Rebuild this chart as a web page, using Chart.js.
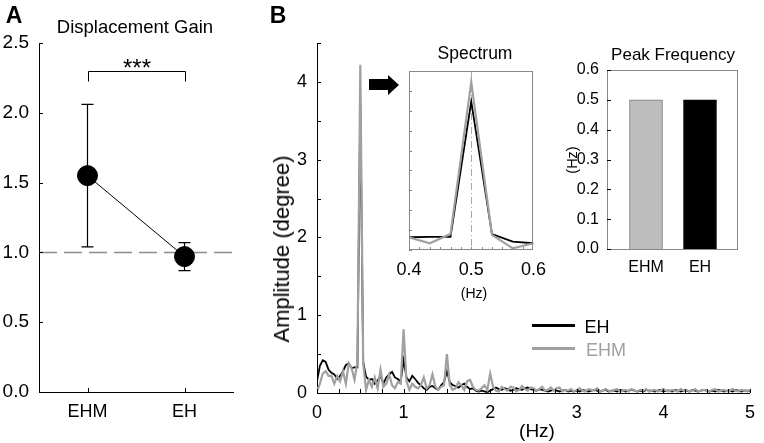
<!DOCTYPE html>
<html><head><meta charset="utf-8">
<script src="https://cdn.jsdelivr.net/npm/chart.js@4.4.0/dist/chart.umd.min.js"></script>
<style>
html,body{margin:0;padding:0;background:#fff;}
body{width:764px;height:443px;position:relative;overflow:hidden;font-family:"Liberation Sans",Arial,sans-serif;color:#000;}
canvas{position:absolute;}
.t{position:absolute;white-space:nowrap;line-height:1;transform:translate(-50%,-50%);}
.r{transform:translate(-50%,-50%) rotate(-90deg);}
.lg{position:absolute;height:2.5px;}
</style></head><body>
<canvas id="cA" width="250" height="443" style="left:0;top:0"></canvas>
<canvas id="cB" width="504" height="443" style="left:260px;top:0"></canvas>
<canvas id="cI" width="175" height="260" style="left:380px;top:40px"></canvas>
<canvas id="cP" width="200" height="250" style="left:560px;top:40px"></canvas>

<div class="t" style="left:14px;top:15px;font-size:23px;font-weight:bold">A</div>
<div class="t" style="left:278px;top:15px;font-size:23px;font-weight:bold">B</div>
<div class="t" style="left:135px;top:27px;font-size:18.5px">Displacement Gain</div>
<div class="t r" style="left:282px;top:249px;font-size:22px">Amplitude (degree)</div>
<div class="t" style="left:537px;top:430px;font-size:19px">(Hz)</div>
<div class="t" style="left:475px;top:54px;font-size:17.5px">Spectrum</div>
<div class="t" style="left:474px;top:293px;font-size:14px">(Hz)</div>
<div class="t" style="left:673px;top:54px;font-size:17px">Peak Frequency</div>
<div class="t r" style="left:572px;top:160px;font-size:14.5px">(Hz)</div>
<div class="lg" style="left:532px;top:324px;width:43px;background:#000"></div>
<div class="t" style="left:597px;top:327px;font-size:18px">EH</div>
<div class="lg" style="left:532px;top:347px;width:43px;background:#a0a0a0"></div>
<div class="t" style="left:606px;top:350px;font-size:18px;color:#a0a0a0">EHM</div>
<svg style="position:absolute;left:369px;top:74px" width="32" height="24" viewBox="0 0 32 24">
<polygon points="0,5 19,5 19,1 30,11 19,21 19,16 0,16" fill="#000"/></svg>

<script>
// ---------- data ----------
const gainCategories = ['EHM', 'EH'];
const gainMean = [1.55, 0.97];
const gainLow = [1.04, 0.87];
const gainHigh = [2.06, 1.07];
const gainRef = 1.0;
const gainTicks = [0, 0.5, 1.0, 1.5, 2.0, 2.5];
const sigLevel = 2.3;
const sigLabel = '***';

const specFreqStep = 1 / 30; // Hz per spectrum bin
const ehAmp = [
 0.15,0.35,0.42,0.40,0.30,0.26,0.24,0.18,0.22,0.28,
 0.36,0.38,0.32,0.33,0.33,3.73,0.40,0.21,0.17,0.18,
 0.12,0.16,0.22,0.12,0.20,0.24,0.27,0.20,0.18,0.15,
 0.42,0.20,0.15,0.22,0.18,0.13,0.10,0.06,0.04,0.08,
 0.09,0.06,0.04,0.10,0.14,0.28,0.14,0.10,0.09,0.07,
 0.10,0.12,0.08,0.05,0.06,0.03,0.02,0.03,0.02,0.01,
 0.03,0.05,0.07,0.05,0.04,0.06,0.05,0.03,0.04,0.06,
 0.05,0.04,0.06,0.07,0.05,0.04,0.03,0.05,0.04,0.03,
 0.02,0.03,0.04,0.03,0.02,0.03,0.04,0.02,0.03,0.02,
 0.03,0.02,0.04,0.03,0.02,0.03,0.04,0.03,0.02,0.03,
 0.04,0.02,0.03,0.03,0.02,0.04,0.03,0.02,0.03,0.04,
 0.03,0.02,0.03,0.02,0.04,0.03,0.03,0.02,0.03,0.04,
 0.02,0.03,0.03,0.02,0.04,0.03,0.02,0.03,0.03,0.02,
 0.04,0.03,0.02,0.03,0.04,0.03,0.02,0.03,0.02,0.04,
 0.03,0.02,0.03,0.03,0.02,0.04,0.03,0.02,0.03,0.03,
 0.02
];
const ehmAmp = [
 0.02,0.12,0.25,0.28,0.22,0.22,0.12,0.22,0.15,0.28,
 0.12,0.38,0.32,0.17,0.40,4.22,0.38,0.04,0.17,0.08,
 0.20,0.06,0.30,0.08,0.12,0.24,0.10,0.06,0.14,0.12,
 0.82,0.15,0.04,0.12,0.08,0.06,0.10,0.20,0.06,0.10,
 0.24,0.08,0.04,0.08,0.10,0.50,0.10,0.04,0.06,0.14,
 0.10,0.04,0.15,0.17,0.08,0.04,0.03,0.06,0.10,0.04,
 0.25,0.08,0.03,0.02,0.08,0.05,0.03,0.08,0.07,0.02,
 0.04,0.09,0.05,0.03,0.07,0.06,0.03,0.05,0.08,0.03,
 0.04,0.07,0.03,0.06,0.07,0.02,0.04,0.03,0.05,0.02,
 0.04,0.06,0.03,0.02,0.05,0.04,0.03,0.06,0.02,0.03,
 0.05,0.03,0.02,0.04,0.05,0.02,0.03,0.04,0.02,0.05,
 0.03,0.02,0.04,0.03,0.05,0.02,0.03,0.04,0.02,0.03,
 0.05,0.03,0.02,0.04,0.03,0.02,0.05,0.03,0.04,0.02,
 0.03,0.05,0.02,0.03,0.04,0.03,0.02,0.04,0.05,0.02,
 0.03,0.04,0.02,0.03,0.05,0.03,0.02,0.04,0.03,0.02,
 0.04
];
const specXTicks = [0, 1, 2, 3, 4, 5];
const specYTicks = [0, 1, 2, 3, 4];
const specMinorX = [0,0.25,0.5,0.75,1,1.25,1.5,1.75,2,2.25,2.5,2.75,3,3.25,3.5,3.75,4,4.25,4.5,4.75,5];
const specMinorY = [0,0.5,1,1.5,2,2.5,3,3.5,4,4.5];

const insetXTicks = [0.4, 0.5, 0.6];
const insetMinorX = [0.4167,0.4333,0.45,0.4667,0.4833,0.5,0.5167,0.5333,0.55,0.5667,0.5833];
const insetPeak = 0.5;

const peakCategories = ['EHM', 'EH'];
const peakFreq = [0.5, 0.5];
const peakTicks = [0, 0.1, 0.2, 0.3, 0.4, 0.5, 0.6];

// ---------- helpers ----------
Chart.defaults.font.family = '"Liberation Sans", Arial, sans-serif';
Chart.defaults.color = '#000';
Chart.defaults.animation = false;

function setTicks(vals) { return s => { s.ticks = vals.map(v => ({ value: v })); }; }

const inTicks = {
  id: 'inTicks',
  afterDraw(chart, args, o) {
    const { ctx, chartArea: a } = chart;
    ctx.save();
    ctx.lineWidth = 1;
    if (o.box) {
      const b = o.boxArea || a;
      ctx.strokeStyle = o.box;
      ctx.strokeRect(Math.round(b.left) + 0.5, Math.round(b.top) + 0.5,
        Math.round(b.right - b.left) - 1, Math.round(b.bottom - b.top) - 1);
    }
    const left = o.boxArea ? o.boxArea.left : a.left;
    ctx.strokeStyle = o.color || '#000';
    (o.y || []).forEach(v => {
      const p = Math.round(chart.scales.y.getPixelForValue(v)) + 0.5;
      ctx.beginPath(); ctx.moveTo(left, p); ctx.lineTo(left + o.len, p); ctx.stroke();
    });
    (o.x || []).forEach(v => {
      const p = Math.round(chart.scales.x.getPixelForValue(v)) + 0.5;
      ctx.beginPath(); ctx.moveTo(p, a.bottom); ctx.lineTo(p, a.bottom - o.len); ctx.stroke();
    });
    ctx.restore();
  }
};

// ---------- Panel A ----------
const gainExtras = {
  id: 'gainExtras',
  beforeDatasetsDraw(chart) {
    const { ctx, chartArea: a, scales: { x, y } } = chart;
    ctx.save();
    ctx.strokeStyle = '#8c8c8c'; ctx.lineWidth = 1.5; ctx.setLineDash([18, 7]);
    const ry = y.getPixelForValue(gainRef);
    ctx.beginPath(); ctx.moveTo(a.left, ry); ctx.lineTo(a.right, ry); ctx.stroke();
    ctx.setLineDash([]);
    ctx.strokeStyle = '#000'; ctx.lineWidth = 1.2;
    gainMean.forEach((m, i) => {
      const px = x.getPixelForValue(i);
      const lo = y.getPixelForValue(gainLow[i]), hi = y.getPixelForValue(gainHigh[i]);
      ctx.beginPath();
      ctx.moveTo(px, lo); ctx.lineTo(px, hi);
      ctx.moveTo(px - 6, lo); ctx.lineTo(px + 6, lo);
      ctx.moveTo(px - 6, hi); ctx.lineTo(px + 6, hi);
      ctx.stroke();
    });
    const by = Math.round(y.getPixelForValue(sigLevel)) + 0.5;
    const x0 = Math.round(x.getPixelForValue(0)) + 0.5, x1 = Math.round(x.getPixelForValue(1)) + 0.5;
    ctx.lineWidth = 1;
    ctx.beginPath(); ctx.moveTo(x0, by + 10); ctx.lineTo(x0, by); ctx.lineTo(x1, by); ctx.lineTo(x1, by + 10); ctx.stroke();
    ctx.fillStyle = '#000'; ctx.font = '24px "Liberation Sans", Arial, sans-serif';
    ctx.textAlign = 'center'; ctx.textBaseline = 'alphabetic';
    ctx.fillText(sigLabel, (x0 + x1) / 2, by + 4);
    ctx.restore();
  }
};

new Chart(document.getElementById('cA'), {
  type: 'line',
  data: {
    labels: gainCategories,
    datasets: [{ data: gainMean, borderColor: '#000', borderWidth: 1, pointRadius: 10,
      pointBackgroundColor: '#000', pointBorderColor: '#000', tension: 0 }]
  },
  options: {
    responsive: false, animation: false,
    layout: { padding: { left: 0, top: 43, right: 17, bottom: 0 } },
    plugins: { legend: { display: false }, tooltip: { enabled: false },
      inTicks: { y: gainTicks, x: [0, 1], len: 4 } },
    scales: {
      x: { type: 'category', offset: true, grid: { display: false, drawTicks: false },
        border: { display: true, color: '#000', width: 1 },
        ticks: { font: { size: 18 }, padding: 9, color: '#000' },
        afterFit: s => { s.height = 51; } },
      y: { min: 0, max: 2.5, grid: { display: false, drawTicks: false },
        border: { display: true, color: '#000', width: 1 },
        afterBuildTicks: setTicks(gainTicks),
        ticks: { font: { size: 19 }, padding: 10, color: '#000', callback: v => v.toFixed(1) },
        afterFit: s => { s.width = 39; } }
    }
  },
  plugins: [gainExtras, inTicks]
});

// ---------- Panel B main spectrum ----------
const toXY = arr => arr.map((v, i) => ({ x: i * specFreqStep, y: v }));

new Chart(document.getElementById('cB'), {
  type: 'line',
  data: {
    datasets: [
      { label: 'EHM', data: toXY(ehmAmp), borderColor: '#a0a0a0', borderWidth: 2.2, pointRadius: 0, tension: 0 },
      { label: 'EH', data: toXY(ehAmp), borderColor: '#000', borderWidth: 1.8, pointRadius: 0, tension: 0 }
    ]
  },
  options: {
    responsive: false, animation: false,
    layout: { padding: { left: 0, top: 43, right: 7, bottom: 0 } },
    plugins: { legend: { display: false }, tooltip: { enabled: false },
      inTicks: { y: specMinorY, x: specMinorX, len: 4 } },
    scales: {
      x: { type: 'linear', min: 0, max: 5, grid: { display: false, drawTicks: false },
        border: { display: true, color: '#000', width: 1 },
        afterBuildTicks: setTicks(specXTicks),
        ticks: { font: { size: 18 }, padding: 9, color: '#000' },
        afterFit: s => { s.height = 50; } },
      y: { type: 'linear', min: 0, max: 4.5, grid: { display: false, drawTicks: false },
        border: { display: true, color: '#000', width: 1 },
        afterBuildTicks: setTicks(specYTicks),
        ticks: { font: { size: 18 }, padding: 10, color: '#000' },
        afterFit: s => { s.width = 57; } }
    }
  },
  plugins: [inTicks]
});

// ---------- Panel B inset spectrum ----------
const insetExtras = {
  id: 'insetExtras',
  beforeDatasetsDraw(chart) {
    const { ctx, chartArea: a, scales: { x } } = chart;
    const px = Math.round(x.getPixelForValue(insetPeak)) + 0.5;
    ctx.save(); ctx.strokeStyle = '#a8a8a8'; ctx.lineWidth = 1; ctx.setLineDash([7, 3, 1, 3]);
    ctx.beginPath(); ctx.moveTo(px, a.top); ctx.lineTo(px, a.bottom); ctx.stroke();
    ctx.restore();
  }
};
new Chart(document.getElementById('cI'), {
  type: 'line',
  data: {
    datasets: [
      { label: 'EHM', data: toXY(ehmAmp), borderColor: '#a0a0a0', borderWidth: 2.2, pointRadius: 0, tension: 0 },
      { label: 'EH', data: toXY(ehAmp), borderColor: '#000', borderWidth: 1.8, pointRadius: 0, tension: 0 }
    ]
  },
  options: {
    responsive: false, animation: false,
    layout: { padding: { left: 0, top: 31, right: 15, bottom: 0 } },
    plugins: { legend: { display: false }, tooltip: { enabled: false },
      inTicks: { y: specMinorY, x: insetMinorX, len: 3, color: '#888', box: '#888' } },
    scales: {
      x: { type: 'linear', min: 0.4, max: 0.6, grid: { display: false, drawTicks: false },
        border: { display: false },
        afterBuildTicks: setTicks(insetXTicks),
        ticks: { font: { size: 18 }, padding: 9, color: '#000', callback: v => v.toFixed(1) },
        afterFit: s => { s.height = 50; } },
      y: { type: 'linear', min: 0, max: 4.5, grid: { display: false, drawTicks: false },
        border: { display: false }, ticks: { display: false },
        afterFit: s => { s.width = 29; } }
    }
  },
  plugins: [insetExtras, inTicks]
});

// ---------- Panel B peak frequency ----------
// chart area (category slots) is narrower than the drawn frame box
new Chart(document.getElementById('cP'), {
  type: 'bar',
  data: {
    labels: peakCategories,
    datasets: [{ data: peakFreq,
      backgroundColor: ['#bdbdbd', '#000'], borderColor: ['#7a7a7a', '#000'], borderWidth: 1,
      barThickness: 33 }]
  },
  options: {
    responsive: false, animation: false,
    layout: { padding: { left: 0, top: 30, right: 33, bottom: 0 } },
    plugins: { legend: { display: false }, tooltip: { enabled: false },
      inTicks: { y: peakTicks, len: 4, color: '#000', box: '#888',
        boxArea: { left: 47, right: 178, top: 30, bottom: 210 } } },
    scales: {
      x: { type: 'category', offset: true, grid: { display: false, drawTicks: false },
        border: { display: false },
        ticks: { font: { size: 16 }, padding: 9, color: '#000' },
        afterFit: s => { s.height = 41; } },
      y: { type: 'linear', min: 0, max: 0.6, grid: { display: false, drawTicks: false },
        border: { display: false },
        afterBuildTicks: setTicks(peakTicks),
        ticks: { font: { size: 16 }, padding: 20, color: '#000', callback: v => v.toFixed(1) },
        afterFit: s => { s.width = 59; } }
    }
  },
  plugins: [inTicks]
});
</script>
</body></html>
